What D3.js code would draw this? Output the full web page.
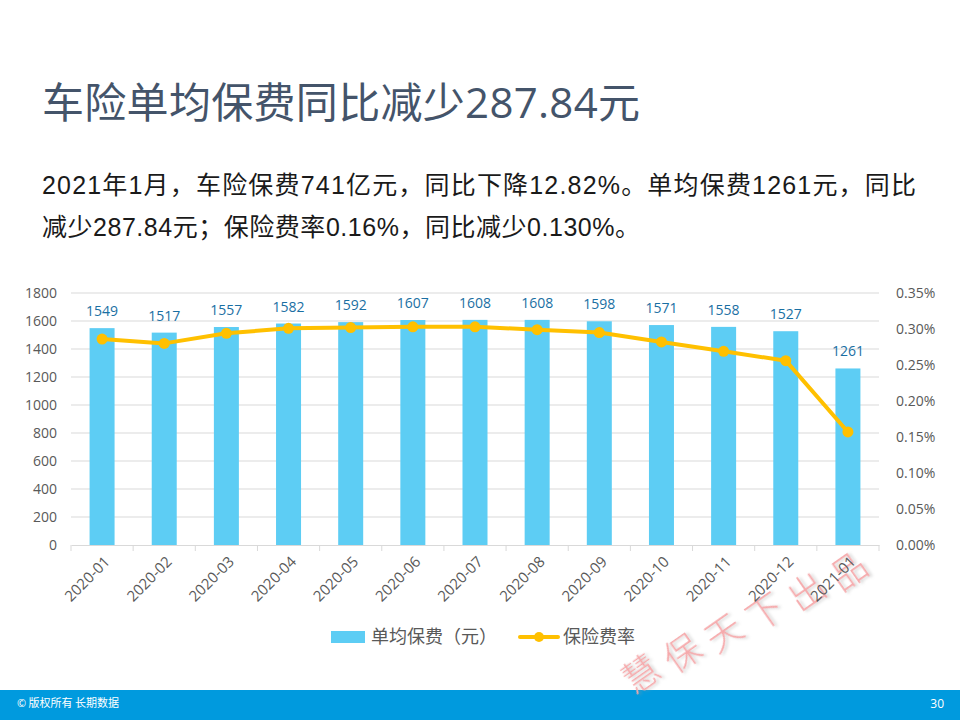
<!DOCTYPE html>
<html><head><meta charset="utf-8">
<script src="https://cdn.jsdelivr.net/npm/d3@7"></script>
<style>
html,body{margin:0;padding:0;background:#fff;}
svg{display:block;font-family:"Noto Sans CJK SC","Open Sans",sans-serif;}
</style></head>
<body>
<script>
const categories = ["2020-01","2020-02","2020-03","2020-04","2020-05","2020-06","2020-07","2020-08","2020-09","2020-10","2020-11","2020-12","2021-01"];
const premiumPerPolicy = [1549,1517,1557,1582,1592,1607,1608,1608,1598,1571,1558,1527,1261];
const premiumRate = [0.286,0.280,0.294,0.301,0.302,0.303,0.303,0.299,0.295,0.282,0.269,0.256,0.157];
const leftTicks = [0,200,400,600,800,1000,1200,1400,1600,1800];
const rightTicks = [0,0.05,0.10,0.15,0.20,0.25,0.30,0.35];
const titleText = "车险单均保费同比减少287.84元";
const bodyLines = ["2021年1月，车险保费741亿元，同比下降12.82%。单均保费1261元，同比","减少287.84元；保险费率0.16%，同比减少0.130%。"];
const seriesNames = ["单均保费（元）","保险费率"];
const watermarkChars = ["慧","保","天","下","出","品"];

(function(){
const W=960,H=720;
const svg=d3.select("body").append("svg").attr("width",W).attr("height",H);

// title
svg.append("text").attr("x",42).attr("y",118).attr("font-size",42).attr("fill","#44546A")
  .attr("textLength",598).attr("lengthAdjust","spacing")
  .attr("font-family","'Open Sans','Noto Sans CJK SC',sans-serif").text(titleText);
const bodyLens=[874,598];
bodyLines.forEach((t,i)=>{
  svg.append("text").attr("x",42).attr("y",194+i*42).attr("font-size",25).attr("fill","#1a1a1a")
    .attr("textLength",bodyLens[i]).attr("lengthAdjust","spacing")
    .attr("font-family","'Liberation Sans Narrow','Liberation Sans','Noto Sans CJK SC',sans-serif").text(t);
});

const pL=71,pR=879,pT=293,pB=545;
const xc=d3.scaleBand().domain(categories).range([pL,pR]);
const y=d3.scaleLinear().domain([0,1800]).range([pB,pT]);
const y2=d3.scaleLinear().domain([0,0.35]).range([pB,pT]);

// footer
svg.append("rect").attr("x",0).attr("y",690).attr("width",W).attr("height",30).attr("fill","#009ADE");
svg.append("text").attr("x",17).attr("y",707).attr("font-size",11).attr("fill","#fff").text("© 版权所有 长期数据");
svg.append("text").attr("x",944).attr("y",708).attr("text-anchor","end").attr("font-size",12).attr("fill","#fff")
  .attr("font-family","'Open Sans',sans-serif").text("30");

// watermark (behind chart text)
const defs=svg.append("defs");
const f=defs.append("filter").attr("id","sh").attr("x","-50%").attr("y","-50%").attr("width","200%").attr("height","200%");
f.append("feDropShadow").attr("dx",2).attr("dy",2).attr("stdDeviation",1.5).attr("flood-color","#999").attr("flood-opacity",0.45);
const wm=svg.append("g");
watermarkChars.forEach((c,i)=>{
  const cx=641+i*41.5, cy=674-i*20.5;
  wm.append("text").attr("transform",`translate(${cx},${cy}) rotate(-35)`)
    .attr("text-anchor","middle").attr("dy","0.35em").attr("font-size",36).attr("font-weight",300)
    .attr("fill","#F6A9AB").attr("filter","url(#sh)").text(c);
});

// gridlines
svg.append("g").selectAll("line").data(leftTicks.filter(d=>d>0)).join("line")
  .attr("x1",pL).attr("x2",pR).attr("y1",d=>y(d)).attr("y2",d=>y(d))
  .attr("stroke","#D9D9D9").attr("stroke-width",1);

// left axis
const ga=svg.append("g").attr("transform",`translate(${pL},0)`)
  .call(d3.axisLeft(y).tickValues(leftTicks).tickFormat(d3.format("d")).tickSize(0).tickPadding(14));
ga.select(".domain").remove();
ga.selectAll("text").attr("font-size",14).attr("fill","#595959").attr("font-family","'Open Sans',sans-serif");

// right axis
const gr=svg.append("g").attr("transform",`translate(${pR},0)`)
  .call(d3.axisRight(y2).tickValues(rightTicks).tickFormat(d=>d.toFixed(2)+"%").tickSize(0).tickPadding(17));
gr.select(".domain").remove();
gr.selectAll("text").attr("font-size",14).attr("fill","#595959").attr("font-family","'Open Sans',sans-serif");

// bars
svg.append("g").selectAll("rect").data(categories).join("rect")
  .attr("x",(d)=>xc(d)+xc.bandwidth()/2-12.5).attr("width",25)
  .attr("y",(d,i)=>y(premiumPerPolicy[i])).attr("height",(d,i)=>pB-y(premiumPerPolicy[i]))
  .attr("fill","#5DCDF4");

// x axis
const gx=svg.append("g").attr("transform",`translate(0,${pB})`)
  .call(d3.axisBottom(xc).tickSize(0).tickFormat(""));
gx.select(".domain").attr("stroke","#D9D9D9");
svg.append("g").selectAll("line").data(d3.range(categories.length+1)).join("line")
  .attr("x1",i=>pL+i*xc.step()).attr("x2",i=>pL+i*xc.step())
  .attr("y1",pB).attr("y2",pB+6).attr("stroke","#D9D9D9");
svg.append("g").selectAll("text").data(categories).join("text")
  .attr("transform",d=>`translate(${xc(d)+xc.bandwidth()/2+5},${pB+14}) rotate(-45)`)
  .attr("text-anchor","end").attr("dy","0.35em").attr("font-size",15).attr("fill","#595959")
  .attr("font-family","'Open Sans',sans-serif").text(d=>d);

// data labels
svg.append("g").selectAll("text").data(categories).join("text")
  .attr("x",d=>xc(d)+xc.bandwidth()/2).attr("y",(d,i)=>y(premiumPerPolicy[i])-12)
  .attr("text-anchor","middle").attr("font-size",14).attr("fill","#1A6FA3")
  .attr("font-family","'Open Sans',sans-serif").text((d,i)=>premiumPerPolicy[i]);

// line
const line=d3.line().x((d,i)=>xc(categories[i])+xc.bandwidth()/2).y(d=>y2(d));
svg.append("path").datum(premiumRate).attr("d",line).attr("fill","none")
  .attr("stroke","#FFC000").attr("stroke-width",4).attr("stroke-linejoin","round");
svg.append("g").selectAll("circle").data(premiumRate).join("circle")
  .attr("cx",(d,i)=>xc(categories[i])+xc.bandwidth()/2).attr("cy",d=>y2(d)).attr("r",5.5)
  .attr("fill","#FFC000");

// legend
svg.append("rect").attr("x",331).attr("y",631).attr("width",34).attr("height",12).attr("fill","#5DCDF4");
svg.append("text").attr("x",371).attr("y",643).attr("font-size",18).attr("fill","#595959").text(seriesNames[0]);
svg.append("line").attr("x1",520).attr("x2",558).attr("y1",637).attr("y2",637).attr("stroke","#FFC000").attr("stroke-width",4).attr("stroke-linecap","round");
svg.append("circle").attr("cx",539).attr("cy",637).attr("r",5).attr("fill","#FFC000");
svg.append("text").attr("x",563).attr("y",643).attr("font-size",18).attr("fill","#595959").text(seriesNames[1]);
})();
</script>
</body></html>
